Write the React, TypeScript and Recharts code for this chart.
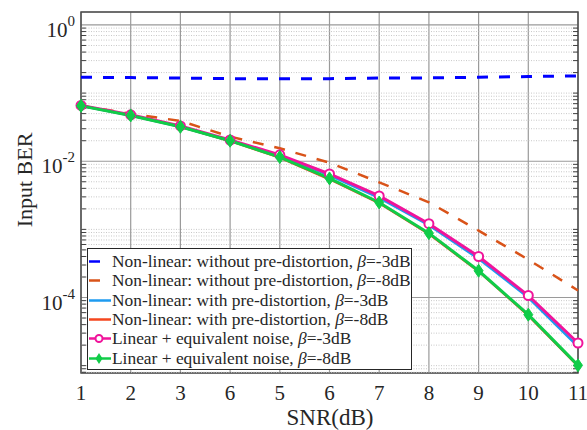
import React from 'react';
import {
  LineChart,
  Line,
  XAxis,
  YAxis,
  CartesianGrid,
  ReferenceLine,
  ReferenceArea,
  Legend,
} from 'recharts';

// SNR points and the tick text as printed on the original figure
const snr = [1, 2, 3, 4, 5, 6, 7, 8, 9, 10, 11];
const xTickLabels = ['1', '2', '3', '6', '5', '6', '7', '8', '9', '10', '11'];
const yTicks = [1, 1e-2, 1e-4];

// input BER
const noPd3 = [0.171, 0.169, 0.166, 0.163, 0.162, 0.163, 0.166, 0.167, 0.171, 0.175, 0.179];
const noPd8 = [0.065, 0.05, 0.039, 0.023, 0.0155, 0.0095, 0.0049, 0.0025, 0.00096, 0.00036, 0.000127];
const pd3 = [0.065, 0.047, 0.032, 0.02, 0.012, 0.0062, 0.0029, 0.00115, 0.00037, 0.0001, 0.000019];
const pd8 = [0.065, 0.047, 0.032, 0.0197, 0.0112, 0.0054, 0.0024, 0.00085, 0.00024, 0.000054, 0.0000098];
const lin3 = [0.066, 0.048, 0.033, 0.0205, 0.0124, 0.0065, 0.0031, 0.00121, 0.0004, 0.000107, 0.0000215];
const lin8 = [0.065, 0.047, 0.032, 0.02, 0.0115, 0.0056, 0.00248, 0.00088, 0.000247, 0.000056, 0.0000101];

const Y_MIN = 7.8e-6;
const Y_MAX = 1.55;

const FONT = "'Liberation Serif', serif";

const data = snr.map((s, i) => ({
  snr: s,
  noPd3: noPd3[i],
  noPd8: noPd8[i],
  pd3: pd3[i],
  pd8: pd8[i],
  lin3: lin3[i],
  lin8: lin8[i],
}));

// minor grid values between decades
const minorVals: number[] = [];
for (let d = -6; d <= 0; d++) {
  for (let k = 1; k <= 9; k++) {
    const v = k * Math.pow(10, d);
    if (v < Y_MIN || v > Y_MAX) continue;
    if (k === 1 && d % 2 === 0) continue;
    minorVals.push(v);
  }
}

const legendItems = [
  { label: 'Non-linear: without pre-distortion, ', beta: '=-3dB', color: '#0000FF', dash: '11 11', marker: '' },
  { label: 'Non-linear: without pre-distortion, ', beta: '=-8dB', color: '#D95319', dash: '11 11', marker: '' },
  { label: 'Non-linear: with pre-distortion, ', beta: '=-3dB', color: '#1E9BF0', dash: '', marker: '' },
  { label: 'Non-linear: with pre-distortion, ', beta: '=-8dB', color: '#F5461E', dash: '', marker: '' },
  { label: 'Linear + equivalent noise, ', beta: '=-3dB', color: '#F0149B', dash: '', marker: 'o' },
  { label: 'Linear + equivalent noise, ', beta: '=-8dB', color: '#10CC48', dash: '', marker: 'd' },
];

const Circle = (props: any) => {
  const { cx, cy } = props;
  if (cx == null || cy == null) return null;
  return <circle cx={cx} cy={cy} r={4.5} fill="#fff" stroke="#F0149B" strokeWidth={2} />;
};

const Diamond = (props: any) => {
  const { cx, cy } = props;
  if (cx == null || cy == null) return null;
  return (
    <path
      d={`M${cx},${cy - 6.5} L${cx + 4.5},${cy} L${cx},${cy + 6.5} L${cx - 4.5},${cy} Z`}
      fill="#10CC48"
      stroke="#10CC48"
      strokeWidth={1}
    />
  );
};

const YTick = (props: any) => {
  const { x, y, payload } = props;
  const e = Math.round(Math.log10(payload.value));
  return (
    <text x={x - 2} y={y + 12} textAnchor="end" fontFamily={FONT} fontSize={21} fill="#262626">
      10
      <tspan dy={-11} fontSize={15}>
        {e}
      </tspan>
    </text>
  );
};

const XTick = (props: any) => {
  const { x, y, payload, index } = props;
  const lbl = xTickLabels[index] ?? String(payload.value);
  return (
    <text x={x} y={y + 27} textAnchor="middle" fontFamily={FONT} fontSize={21} fill="#262626">
      {lbl}
    </text>
  );
};

const LegendBox = () => (
  <div
    style={{
      border: '1px solid #262626',
      background: '#fff',
      padding: '3px 4px 0 0',
      fontFamily: FONT,
      fontSize: 17.4,
      color: '#262626',
      width: 319,
      height: 117,
      boxSizing: 'content-box',
    }}
  >
    {legendItems.map((it, i) => (
      <div key={i} style={{ display: 'flex', alignItems: 'center', height: 19.3, whiteSpace: 'nowrap' }}>
        <svg width={24} height={19} style={{ flex: 'none' }}>
          <line
            x1={1}
            y1={9.5}
            x2={23}
            y2={9.5}
            stroke={it.color}
            strokeWidth={2.5}
            strokeDasharray={it.dash || undefined}
          />
          {it.marker === 'o' && <circle cx={11} cy={9.5} r={3.5} fill="#fff" stroke={it.color} strokeWidth={2} />}
          {it.marker === 'd' && <path d="M11,4 L14.5,9.5 L11,15 L7.5,9.5 Z" fill={it.color} />}
        </svg>
        <span>
          {it.label}
          <i>β</i>
          {it.beta}
        </span>
      </div>
    ))}
  </div>
);

export default function App() {
  return (
    <div style={{ position: 'absolute', left: 0, top: 0, background: '#fff' }}>
      <LineChart width={587} height={430} data={data} margin={{ top: 12, right: 9, left: 0, bottom: 0 }}>
        {minorVals.map((v) => (
          <ReferenceLine key={'m' + v} y={v} stroke="#c8c8c8" strokeDasharray="1 1.5" strokeWidth={1} />
        ))}
        <CartesianGrid stroke="#9a9a9a" strokeWidth={1.2} />
        <XAxis
          dataKey="snr"
          type="number"
          domain={[1, 11]}
          ticks={snr}
          axisLine={false}
          tickLine={false}
          tickSize={0}
          tickMargin={0}
          height={57}
          tick={<XTick />}
          label={{
            content: () => (
              <text x={330} y={425} textAnchor="middle" fontFamily={FONT} fontSize={23} fill="#262626">
                SNR(dB)
              </text>
            ),
          }}
        />
        <YAxis
          scale="log"
          domain={[Y_MIN, Y_MAX]}
          allowDataOverflow
          ticks={yTicks}
          axisLine={false}
          tickLine={false}
          tickSize={0}
          tickMargin={4}
          width={81}
          tick={<YTick />}
          label={{
            content: () => (
              <text
                x={32}
                y={180}
                transform="rotate(-90, 32, 180)"
                textAnchor="middle"
                fontFamily={FONT}
                fontSize={22}
                fill="#262626"
              >
                Input BER
              </text>
            ),
          }}
        />
        {minorVals.map((v) => (
          <ReferenceLine
            key={'tl' + v}
            segment={[{ x: 1, y: v }, { x: 1.1, y: v }]}
            stroke="#404040"
            strokeWidth={1}
          />
        ))}
        {minorVals.map((v) => (
          <ReferenceLine
            key={'tr' + v}
            segment={[{ x: 10.9, y: v }, { x: 11, y: v }]}
            stroke="#404040"
            strokeWidth={1}
          />
        ))}
        <ReferenceArea x1={1} x2={11} y1={Y_MIN} y2={Y_MAX} fill="none" stroke="#4d4d4d" strokeWidth={1.5} />
        <Line dataKey="noPd3" stroke="#0000FF" strokeWidth={3} strokeDasharray="11 11" dot={false} isAnimationActive={false} />
        <Line dataKey="noPd8" stroke="#D95319" strokeWidth={2.5} strokeDasharray="11 11" dot={false} isAnimationActive={false} />
        <Line dataKey="pd3" stroke="#1E9BF0" strokeWidth={2.5} dot={false} isAnimationActive={false} />
        <Line dataKey="pd8" stroke="#F5461E" strokeWidth={2} dot={false} isAnimationActive={false} />
        <Line dataKey="lin3" stroke="#F0149B" strokeWidth={3} dot={<Circle />} isAnimationActive={false} />
        <Line dataKey="lin8" stroke="#10CC48" strokeWidth={3} dot={<Diamond />} isAnimationActive={false} />
        <Legend
          layout="horizontal"
          align="center"
          verticalAlign="middle"
          content={<LegendBox />}
          wrapperStyle={{ left: 87, top: 248, width: 'auto', bottom: 'auto', right: 'auto' }}
        />
      </LineChart>
    </div>
  );
}
